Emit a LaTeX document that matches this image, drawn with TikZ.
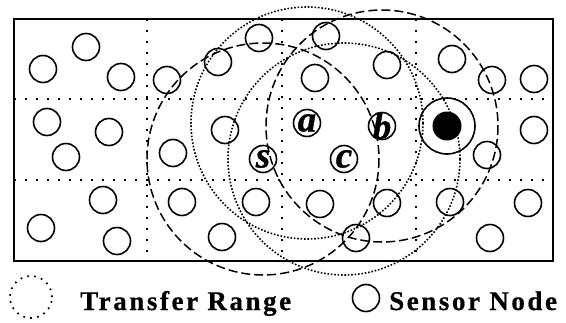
\documentclass[tikz,border=0pt]{standalone}
\usepackage{fontspec}
\setmainfont{Liberation Serif}
\newfontfamily\legendfont[LetterSpace=9.5,FakeBold=0.6]{Liberation Serif}
\newfontfamily\namefont[FakeBold=0.8]{Liberation Serif}
\usetikzlibrary{positioning}

\begin{document}
\begin{tikzpicture}[
    x=1pt, y=-1pt,
    sensor/.style={
      circle, draw, line width=1.6pt,
      minimum size=27pt, inner sep=0pt
    },
    named/.style={
      sensor, inner sep=-5pt,
      font=\namefont\fontsize{37}{37}\selectfont\bfseries\itshape
    },
    sinkdot/.style={circle, fill=black, minimum size=29pt, inner sep=0pt},
    hop/.style={line width=1.5pt, dash pattern=on 9pt off 4pt},
    reach/.style={line width=1.6pt, dash pattern=on 1.6pt off 1.8pt},
    gridline/.style={line width=1.7pt, dash pattern=on 1.7pt off 9.3pt},
    legend/.style={
      anchor=base west, inner sep=0pt,
      font=\legendfont\fontsize{27}{27}\selectfont\bfseries
    },
  ]
  \useasboundingbox (0,0) rectangle (566,322);

  % Field and grid
  \draw[line width=2pt] (14,19) rectangle (553,261);
  \draw[gridline] (147,19) -- (147,261);
  \draw[gridline] (282,19) -- (282,261);
  \draw[gridline] (416,19) -- (416,261);
  \draw[gridline] (14,99)  -- (553,99);
  \draw[gridline] (14,180) -- (553,180);

  % Top row
  \node[sensor] (n1)  at (43,69)  {};
  \node[sensor] (n2)  at (86,47)  {};
  \node[sensor] (n3)  at (121,77) {};
  \node[sensor] (n4)  at (167,80) {};
  \node[sensor] (n5)  at (218,62) {};
  \node[sensor] (n6)  at (259,38) {};
  \node[sensor] (n7)  at (326,36) {};
  \node[sensor] (n8)  at (315,78) {};
  \node[sensor] (n9)  at (387,65) {};
  \node[sensor] (n10) at (452,59) {};
  \node[sensor] (n11) at (492,80) {};
  \node[sensor] (n12) at (534,79) {};

  % Middle row
  \node[sensor] (n13) at (47,122)  {};
  \node[sensor] (n14) at (109,132) {};
  \node[sensor] (n15) at (66,157)  {};
  \node[sensor] (n16) at (173,153) {};
  \node[sensor] (n17) at (225,130) {};
  \node[sensor] (n18) at (534,130) {};
  \node[sensor] (n19) at (487,155) {};

  % Relay path
  \node[named] (s) at (263,159) {s};
  \node[named] (a) at (307,123) {a};
  \node[named] (b) at (382,126) {b};
  \node[named] (c) at (344,159) {c};
  \node[sinkdot] (sink) at (447,126) {};
  \draw[line width=1.6pt] (sink) circle[radius=28];

  % Bottom row
  \node[sensor] (n20) at (41,228)  {};
  \node[sensor] (n21) at (103,200) {};
  \node[sensor] (n22) at (117,241) {};
  \node[sensor] (n23) at (182,202) {};
  \node[sensor] (n24) at (222,237) {};
  \node[sensor] (n25) at (256,202) {};
  \node[sensor] (n26) at (320,204) {};
  \node[sensor] (n27) at (356,238) {};
  \node[sensor] (n28) at (387,203) {};
  \node[sensor] (n29) at (450,202) {};
  \node[sensor] (n30) at (490,238) {};
  \node[sensor] (n31) at (528,203) {};

  % Ranges
  \draw[hop]   (s) circle[radius=116];
  \draw[hop]   (b) circle[radius=116];
  \draw[reach] (a) circle[radius=116];
  \draw[reach] (c) circle[radius=116];

  % Legend
  \node[circle, minimum size=42pt, inner sep=0pt, draw,
        line width=1.7pt, dash pattern=on 1.7pt off 5.3pt] (rangekey) at (31,297) {};
  \node[legend] (rangetext) at (80,310) {Transfer Range};
  \node[sensor] (sensorkey) at (366,298) {};
  \node[legend] (sensortext) at (389,310) {Sensor Node};

\end{tikzpicture}
\end{document}
